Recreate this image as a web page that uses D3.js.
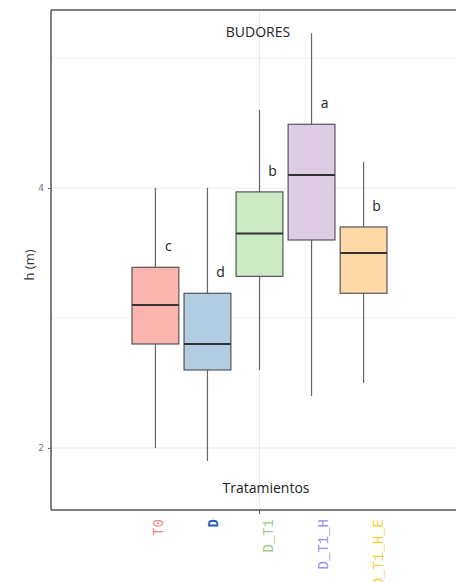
<!DOCTYPE html>
<html>
<head>
<meta charset="utf-8">
<script src="https://cdn.jsdelivr.net/npm/d3@7"></script>
<style>
  body { margin: 0; background: #fff; }
  svg { display: block; }
</style>
</head>
<body>
<div id="chart"></div>
<script>
// data
const treatments = ["T0", "D", "D_T1", "D_T1_H", "D_T1_H_E"];
const whiskerLow = [2.0, 1.9, 2.6, 2.4, 2.5];
const q1 = [2.8, 2.6, 3.32, 3.6, 3.19];
const medians = [3.1, 2.8, 3.65, 4.1, 3.5];
const q3 = [3.39, 3.19, 3.97, 4.49, 3.7];
const whiskerHigh = [4.0, 4.0, 4.6, 5.19, 4.2];
const letters = ["c", "d", "b", "a", "b"];
const yTicks = [2, 4];
const yMinor = [3, 5];

const boxFill = ["#fbb4ae", "#b3cde3", "#ccebc5", "#decbe4", "#fed9a6"];
const labelColor = ["#f08080", "#1f5fbf", "#a3cc8c", "#9a90ee", "#f3d23c"];

const width = 456, height = 582;
const margin = {top: 10, right: -14, bottom: 72, left: 51};
const innerWidth = width - margin.left - margin.right;
const innerHeight = height - margin.top - margin.bottom;

const data = treatments.map((t, i) => ({
  t, lo: whiskerLow[i], q1: q1[i], med: medians[i], q3: q3[i], hi: whiskerHigh[i], letter: letters[i], i
}));

const xScale = d3.scaleBand()
  .domain(treatments)
  .range([81, 336])
  .paddingInner(0.1)
  .paddingOuter(0);

const yScale = d3.scaleLinear()
  .domain([1.523, 5.369])
  .range([innerHeight, 0]);

const svg = d3.select("#chart").append("svg")
  .attr("width", width)
  .attr("height", height);

const g = svg.append("g")
  .attr("transform", `translate(${margin.left},${margin.top})`);

// grid
g.selectAll(".minor").data(yMinor).enter().append("line")
  .attr("x1", 0).attr("x2", innerWidth)
  .attr("y1", d => yScale(d)).attr("y2", d => yScale(d))
  .attr("stroke", "#f2f2f2").attr("stroke-width", 1);
g.selectAll(".major").data(yTicks).enter().append("line")
  .attr("x1", 0).attr("x2", innerWidth)
  .attr("y1", d => yScale(d)).attr("y2", d => yScale(d))
  .attr("stroke", "#ebebeb").attr("stroke-width", 1.2);
const bw = xScale.bandwidth();
const midX = xScale("D_T1") + bw / 2;
g.append("line")
  .attr("x1", midX).attr("x2", midX)
  .attr("y1", 0).attr("y2", innerHeight)
  .attr("stroke", "#ebebeb").attr("stroke-width", 1.2);

// boxes
const box = g.selectAll(".box").data(data).enter().append("g");
box.append("line")
  .attr("x1", d => xScale(d.t) + bw / 2).attr("x2", d => xScale(d.t) + bw / 2)
  .attr("y1", d => yScale(d.hi)).attr("y2", d => yScale(d.lo))
  .attr("stroke", "#666").attr("stroke-width", 1.2);
box.append("rect")
  .attr("x", d => xScale(d.t))
  .attr("width", bw)
  .attr("y", d => yScale(d.q3))
  .attr("height", d => yScale(d.q1) - yScale(d.q3))
  .attr("fill", d => boxFill[d.i])
  .attr("stroke", "#555").attr("stroke-width", 1.2);
box.append("line")
  .attr("x1", d => xScale(d.t)).attr("x2", d => xScale(d.t) + bw)
  .attr("y1", d => yScale(d.med)).attr("y2", d => yScale(d.med))
  .attr("stroke", "#333").attr("stroke-width", 2);
box.append("text")
  .attr("x", d => xScale(d.t) + bw / 2 + 13)
  .attr("y", d => yScale(d.q3) - 16)
  .attr("text-anchor", "middle")
  .attr("font-family", "Open Sans, sans-serif")
  .attr("font-size", 14)
  .attr("fill", "#222")
  .text(d => d.letter);

// panel border (left, top, bottom)
g.append("line").attr("x1", 0).attr("x2", 0).attr("y1", 0).attr("y2", innerHeight)
  .attr("stroke", "#555").attr("stroke-width", 1.5);
g.append("line").attr("x1", 0).attr("x2", innerWidth).attr("y1", 0).attr("y2", 0)
  .attr("stroke", "#555").attr("stroke-width", 1.5);
g.append("line").attr("x1", 0).attr("x2", innerWidth).attr("y1", innerHeight).attr("y2", innerHeight)
  .attr("stroke", "#555").attr("stroke-width", 1.5);

// y axis ticks
const yAxis = g.append("g").call(d3.axisLeft(yScale).tickValues(yTicks).tickFormat(d3.format("d")).tickSize(3).tickPadding(4));
yAxis.select(".domain").remove();
yAxis.selectAll("line").attr("stroke", "#666");
yAxis.selectAll("text").attr("fill", "#777").attr("font-size", 9)
  .attr("font-family", "DejaVu Sans, sans-serif");

// x tick mark only at D_T1
g.append("line").attr("x1", midX).attr("x2", midX)
  .attr("y1", innerHeight).attr("y2", innerHeight + 4)
  .attr("stroke", "#555");

// x labels
g.selectAll(".xl").data(data).enter().append("text")
  .attr("transform", d => `translate(${xScale(d.t) + bw / 2 + 3 + d.i * 3},${innerHeight + 9}) rotate(-90)`)
  .attr("text-anchor", "end")
  .attr("dy", "0.35em")
  .attr("font-family", "Liberation Mono, DejaVu Sans Mono, monospace")
  .attr("font-weight", d => d.t === "D" ? "bold" : "normal")
  .attr("font-size", 14)
  .attr("fill", d => labelColor[d.i])
  .text(d => d.t);

// titles
g.append("text")
  .attr("x", 207).attr("y", 27)
  .attr("text-anchor", "middle")
  .attr("font-family", "Open Sans, sans-serif")
  .attr("font-size", 14).attr("fill", "#222")
  .text("BUDORES");
g.append("text")
  .attr("x", 215).attr("y", 483)
  .attr("text-anchor", "middle")
  .attr("font-family", "Open Sans, sans-serif")
  .attr("font-size", 14).attr("fill", "#222")
  .text("Tratamientos");
svg.append("text")
  .attr("transform", "translate(34,265) rotate(-90)")
  .attr("text-anchor", "middle")
  .attr("font-family", "Open Sans, sans-serif")
  .attr("font-size", 13).attr("fill", "#333")
  .text("h (m)");
</script>
</body>
</html>
